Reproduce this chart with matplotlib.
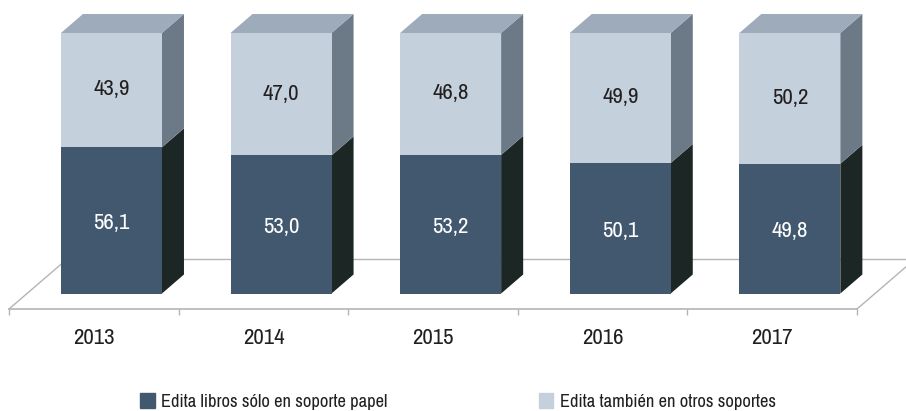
import matplotlib
matplotlib.use('Agg')
import matplotlib.pyplot as plt
from matplotlib.patches import Patch, Polygon

years = ['2013', '2014', '2015', '2016', '2017']
papel = [56.1, 53.0, 53.2, 50.1, 49.8]
otros = [43.9, 47.0, 46.8, 49.9, 50.2]

label_papel = 'Edita libros sólo en soporte papel'
label_otros = 'Edita también en otros soportes'

DARK = '#42586f'
DARK_SIDE = '#1c2625'
LIGHT = '#c4d0dc'
LIGHT_SIDE = '#6c7986'
LIGHT_TOP = '#9eabba'
FLOOR = '#b4b4b4'
TEXT = '#231f20'

plt.rcParams['font.family'] = ['Archivo Narrow', 'Liberation Sans', 'DejaVu Sans']

fig = plt.figure(figsize=(9.06, 4.11), dpi=100)
ax = fig.add_axes([0, 0, 1, 1])

# one category = 169.6 px, 100 % = 260.5 px
ax.set_xlim(-0.553, 4.789)
ax.set_ylim(-45.1, 112.67)
ax.patch.set_alpha(0)

width = 0.5955
shift = 0.104    # bars stand a bit behind the axis
dx = 0.13        # 3D depth
dy = 7.3
floor_y = -5.95
back_y = 13.2

# floor
ax.plot([-0.5, -0.5 + 0.342], [floor_y, back_y], color=FLOOR, lw=1, zorder=1)
ax.plot([-0.5 + 0.342, 4.789], [back_y, back_y], color=FLOOR, lw=1, zorder=1)
ax.plot([4.5, 4.789], [floor_y, floor_y + 16.2], color=FLOOR, lw=1, zorder=1)

for i in range(len(years)):
    xl = i + shift - width / 2
    xr = i + shift + width / 2
    h1 = papel[i]
    h2 = papel[i] + otros[i]
    ax.add_patch(Polygon([(xr, 0), (xr + dx, dy), (xr + dx, h1 + dy), (xr, h1)],
                         fc=DARK_SIDE, ec='none', zorder=2))
    ax.add_patch(Polygon([(xr, h1), (xr + dx, h1 + dy), (xr + dx, h2 + dy), (xr, h2)],
                         fc=LIGHT_SIDE, ec='none', zorder=2))
    ax.add_patch(Polygon([(xl, h2), (xl + dx, h2 + dy), (xr + dx, h2 + dy), (xr, h2)],
                         fc=LIGHT_TOP, ec='none', zorder=2))

pos = [i + shift for i in range(len(years))]
ax.bar(pos, papel, width, color=DARK, zorder=3)
ax.bar(pos, otros, width, bottom=papel, color=LIGHT, zorder=3)

for i in range(len(years)):
    ax.annotate(f'{papel[i]:.1f}'.replace('.', ','), (pos[i], papel[i] / 2), xytext=(0, -2),
                textcoords='offset points', color='white',
                ha='center', va='center', fontsize=16.5, zorder=4)
    ax.annotate(f'{otros[i]:.1f}'.replace('.', ','), (pos[i], papel[i] + otros[i] / 2), xytext=(0, 0.5),
                textcoords='offset points', color=TEXT,
                ha='center', va='center', fontsize=16.5, zorder=4)

# x axis on the front edge of the floor
for s in ['top', 'left', 'right']:
    ax.spines[s].set_visible(False)
ax.spines['bottom'].set_position(('data', floor_y))
ax.spines['bottom'].set_bounds(-0.5, 4.5)
ax.spines['bottom'].set_color(FLOOR)
ax.spines['bottom'].set_linewidth(1.2)
ax.set_yticks([])
ax.set_xticks(range(len(years)))
ax.set_xticklabels(years, fontsize=16.5, color=TEXT)
ax.tick_params(axis='x', which='major', length=0, pad=14)
ax.set_xticks([i - 0.5 for i in range(len(years) + 1)], minor=True)
ax.tick_params(axis='x', which='minor', length=4, width=1, color=FLOOR)

handles = [Patch(color=DARK, label=label_papel), Patch(color=LIGHT, label=label_otros)]
ax.legend(handles=handles, ncol=2, frameon=False, loc='lower left',
          bbox_to_anchor=(140 / 906, 0.0025), borderaxespad=0, borderpad=0,
          handlelength=0.8, handleheight=0.8, handletextpad=0.33,
          columnspacing=8.2, fontsize=13.3, labelcolor=TEXT)

plt.savefig('out.png', dpi=100)
